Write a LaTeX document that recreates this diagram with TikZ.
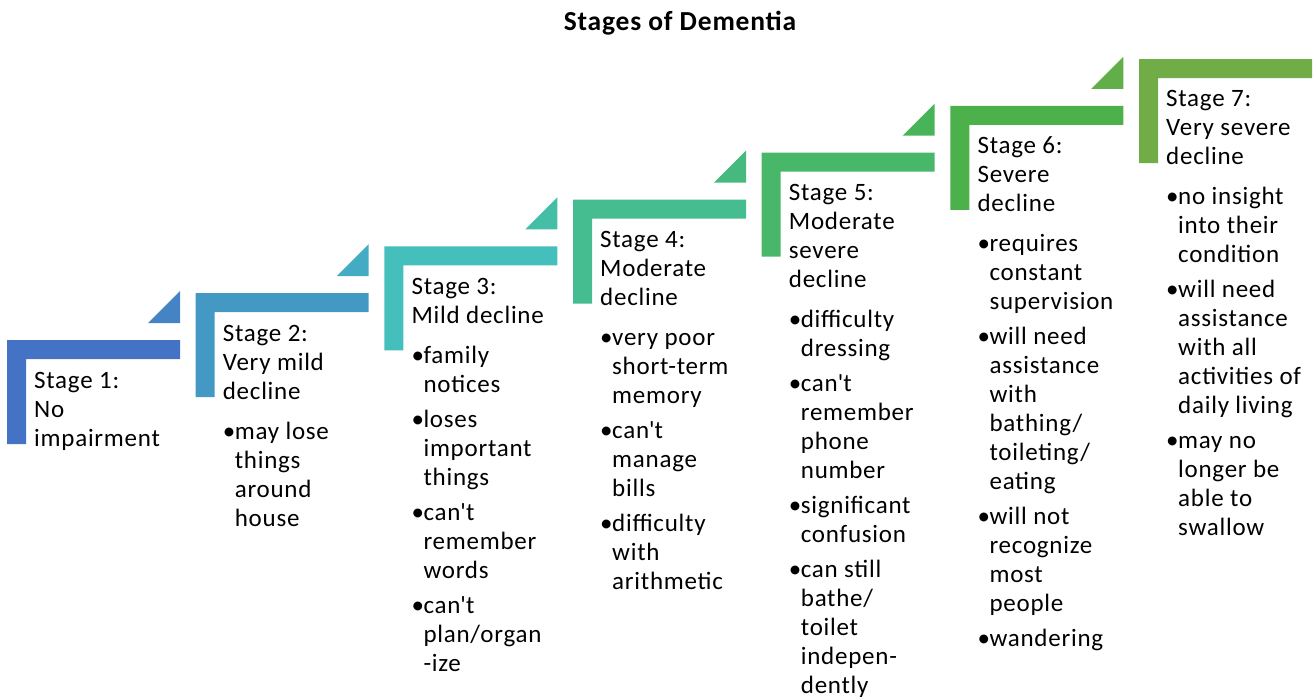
\documentclass[tikz,border=0pt]{standalone}
\usepackage{fontspec}
\setmainfont{Carlito}[LetterSpace=3]
\definecolor{c1}{HTML}{4472C4}
\definecolor{t1}{HTML}{4584C4}
\definecolor{c2}{HTML}{4398C4}
\definecolor{t2}{HTML}{44ACC2}
\definecolor{c3}{HTML}{44BFBC}
\definecolor{t3}{HTML}{44BEA6}
\definecolor{c4}{HTML}{45BD90}
\definecolor{t4}{HTML}{46BA7E}
\definecolor{c5}{HTML}{48B76A}
\definecolor{t5}{HTML}{49B35A}
\definecolor{c6}{HTML}{4CB14B}
\definecolor{t6}{HTML}{62AE48}
\definecolor{c7}{HTML}{70AD47}
\newcommand\stagetext[1]{\parbox[t]{220pt}{\fontsize{25}{29}\selectfont\raggedright #1}}
\newcommand\headend{\par\vspace{5pt}}
\newcommand\bitem[1]{\par\vspace{6pt}\hangindent=12pt\hangafter=1\noindent\makebox[12pt][l]{\textbullet}#1}
\newcommand\ap{\textquotesingle}
\tikzset{stagelabel/.style={anchor=base west, inner sep=0pt, font=\fontsize{25}{29}\selectfont}}
\begin{document}
\begin{tikzpicture}[x=1pt,y=-1pt]
\useasboundingbox (0,0) rectangle (1315,698);
\node[anchor=base, inner sep=0pt, font=\fontsize{27.5}{32}\selectfont\bfseries] (title) at (680,31) {Stages of Dementia};
\foreach \i/\c in {0/c1,1/c2,2/c3,3/c4,4/c5,5/c6,6/c7}{
  \pgfmathsetmacro\L{7+188.67*\i}
  \pgfmathsetmacro\T{340-46.83*\i}
  \fill[\c] (\L,\T) -- ++(173,0) -- ++(0,19) -- ++(-154,0) -- ++(0,85) -- ++(-19,0) -- cycle;
}
\foreach \i/\c in {0/t1,1/t2,2/t3,3/t4,4/t5,5/t6}{
  \pgfmathsetmacro\L{7+188.67*\i}
  \pgfmathsetmacro\T{340-46.83*\i}
  \fill[\c] (\L+141,\T-17) -- (\L+173,\T-17) -- (\L+173,\T-49) -- cycle;
}
\node[stagelabel] (s1) at (34,388) {\stagetext{Stage 1:\newline No\newline impairment}};
\node[stagelabel] (s2) at (222.67,341.17) {\stagetext{Stage 2:\newline Very mild\newline decline\headend
\bitem{may lose\newline things\newline around\newline house}}};
\node[stagelabel] (s3) at (411.34,294.34) {\stagetext{Stage 3:\newline Mild decline\headend
\bitem{family\newline notices}
\bitem{loses\newline important\newline things}
\bitem{can\ap t\newline remember\newline words}
\bitem{can\ap t\newline plan/organ\newline -ize}}};
\node[stagelabel] (s4) at (600,247.5) {\stagetext{Stage 4:\newline Moderate\newline decline\headend
\bitem{very poor\newline short-term\newline memory}
\bitem{can\ap t\newline manage\newline bills}
\bitem{difficulty\newline with\newline arithmetic}}};
\node[stagelabel] (s5) at (788.68,200.68) {\stagetext{Stage 5:\newline Moderate\newline severe\newline decline\headend
\bitem{difficulty\newline dressing}
\bitem{can\ap t\newline remember\newline phone\newline number}
\bitem{significant\newline confusion}
\bitem{can still\newline bathe/\newline toilet\newline indepen-\newline dently}}};
\node[stagelabel] (s6) at (977.35,153.85) {\stagetext{Stage 6:\newline Severe\newline decline\headend
\bitem{requires\newline constant\newline supervision}
\bitem{will need\newline assistance\newline with\newline bathing/\newline toileting/\newline eating}
\bitem{will not\newline recognize\newline most\newline people}
\bitem{wandering}}};
\node[stagelabel] (s7) at (1166,107) {\stagetext{Stage 7:\newline Very severe\newline decline\headend
\bitem{no insight\newline into their\newline condition}
\bitem{will need\newline assistance\newline with all\newline activities of\newline daily living}
\bitem{may no\newline longer be\newline able to\newline swallow}}};
\end{tikzpicture}
\end{document}
